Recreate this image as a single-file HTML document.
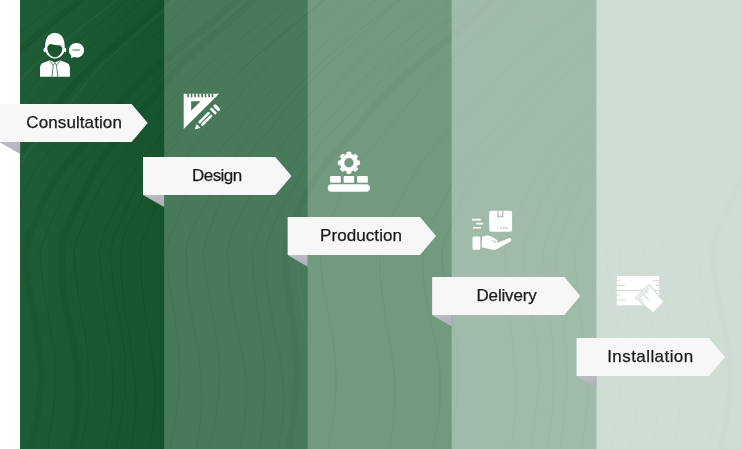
<!DOCTYPE html>
<html>
<head>
<meta charset="utf-8">
<style>
html,body{margin:0;padding:0;background:#fff;}
body{width:741px;height:449px;overflow:hidden;font-family:"Liberation Sans",sans-serif;}
svg{display:block;will-change:transform;}
text{font-family:"Liberation Sans",sans-serif;font-size:17px;fill:#1a1a1a;stroke:#1a1a1a;stroke-width:0.25px;text-anchor:middle;}
</style>
</head>
<body>
<svg width="741" height="449" viewBox="0 0 741 449">
<defs>
<linearGradient id="g1" x1="0" x2="1" y1="0" y2="0">
<stop offset="0" stop-color="#1d5c34"/><stop offset="1" stop-color="#15542c"/>
</linearGradient>
<linearGradient id="fold" x1="0" x2="1" y1="0" y2="1">
<stop offset="0" stop-color="#c0bfc7"/><stop offset="1" stop-color="#b0aeb8"/>
</linearGradient>
<g id="grain" fill="none" stroke-linejoin="round">
<path d="M-229 449 -227 438 -225 427 -224 416 -223 405 -222 394 -222 383 -223 372 -224 361 -225 350 -227 339 -229 328 -231 317 -233 306 -235 295 -236 284 -237 273 -238 262 -239 251 -236 240 -232 229 -227 218 -221 207 -216 196 -210 185 -204 174 -197 163 -188 152 -178 141 -168 130 -158 119 -148 108 -138 97 -128 86 -117 75 -106 64 -93 53 -79 42 -65 31 -52 20 -38 9 -25 -2 M-207 449 -205 438 -204 427 -204 416 -203 405 -203 394 -203 383 -204 372 -205 361 -206 350 -207 339 -209 328 -210 317 -211 306 -212 295 -213 284 -213 273 -213 262 -214 251 -212 240 -208 229 -203 218 -197 207 -191 196 -185 185 -180 174 -173 163 -166 152 -157 141 -147 130 -137 119 -126 108 -116 97 -106 86 -96 75 -86 64 -74 53 -61 42 -48 31 -34 20 -21 9 -8 -2 M-108 449 -106 438 -105 427 -103 416 -103 405 -103 394 -103 383 -104 372 -106 361 -108 350 -110 339 -112 328 -114 317 -116 306 -118 295 -119 284 -120 273 -119 262 -120 251 -118 240 -114 229 -109 218 -104 207 -98 196 -92 185 -86 174 -80 163 -73 152 -64 141 -55 130 -44 119 -34 108 -24 97 -15 86 -5 75 5 64 17 53 29 42 42 31 56 20 69 9 82 -2 M-19 449 -17 438 -15 427 -13 416 -12 405 -11 394 -11 383 -11 372 -12 361 -13 350 -15 339 -17 328 -19 317 -21 306 -23 295 -25 284 -26 273 -26 262 -28 251 -25 240 -21 229 -16 218 -11 207 -7 196 -2 185 4 174 11 163 19 152 28 141 37 130 47 119 56 108 64 97 73 86 83 75 94 64 106 53 119 42 131 31 143 20 155 9 167 -2 M31 449 33 438 35 427 37 416 39 405 40 394 41 383 41 372 40 361 39 350 38 339 36 328 34 317 32 306 30 295 28 284 26 273 25 262 25 251 28 240 32 229 37 218 41 207 46 196 52 185 59 174 67 163 77 152 87 141 97 130 106 119 116 108 125 97 136 86 147 75 160 64 174 53 187 42 201 31 214 20 226 9 240 -2 M72 449 74 438 76 427 77 416 78 405 79 394 78 383 78 372 76 361 75 350 73 339 70 328 68 317 66 306 64 295 63 284 62 273 62 262 61 251 63 240 67 229 72 218 77 207 83 196 88 185 93 174 100 163 107 152 116 141 125 130 135 119 144 108 154 97 163 86 172 75 182 64 194 53 206 42 219 31 231 20 244 9 256 -2 M289 449 290 438 292 427 293 416 295 405 296 394 296 383 297 372 296 361 296 350 295 339 293 328 292 317 290 306 289 295 287 284 286 273 285 262 285 251 288 240 292 229 296 218 300 207 305 196 311 185 318 174 326 163 336 152 345 141 355 130 364 119 373 108 383 97 394 86 405 75 418 64 431 53 444 42 457 31 470 20 482 9 495 -2 M720 449 722 438 725 427 727 416 728 405 730 394 730 383 730 372 730 361 728 350 727 339 725 328 722 317 720 306 718 295 716 284 714 273 713 262 712 251 715 240 719 229 724 218 728 207 733 196 738 185 744 174 752 163 761 152 770 141 780 130 789 119 798 108 807 97 816 86 827 75 839 64 851 53 864 42 877 31 889 20 901 9 914 -2" stroke="#000" stroke-opacity="0.045" stroke-width="7"/>
<path d="M-186 449 -185 438 -184 427 -183 416 -182 405 -182 394 -183 383 -183 372 -184 361 -185 350 -187 339 -188 328 -190 317 -191 306 -192 295 -193 284 -193 273 -193 262 -194 251 -192 240 -188 229 -183 218 -177 207 -171 196 -165 185 -160 174 -153 163 -145 152 -137 141 -127 130 -116 119 -106 108 -96 97 -86 86 -76 75 -66 64 -54 53 -41 42 -28 31 -14 20 -1 9 12 -2 M-169 449 -168 438 -166 427 -165 416 -165 405 -164 394 -164 383 -164 372 -165 361 -166 350 -167 339 -168 328 -170 317 -171 306 -172 295 -173 284 -174 273 -174 262 -175 251 -173 240 -168 229 -163 218 -158 207 -153 196 -148 185 -143 174 -136 163 -128 152 -119 141 -109 130 -99 119 -90 108 -81 97 -72 86 -62 75 -51 64 -39 53 -26 42 -13 31 -1 20 12 9 24 -2 M-143 449 -142 438 -141 427 -140 416 -139 405 -139 394 -139 383 -139 372 -140 361 -141 350 -143 339 -144 328 -146 317 -147 306 -148 295 -149 284 -150 273 -150 262 -151 251 -149 240 -144 229 -139 218 -133 207 -127 196 -122 185 -116 174 -109 163 -100 152 -91 141 -81 130 -70 119 -59 108 -49 97 -39 86 -29 75 -18 64 -5 53 8 42 22 31 36 20 50 9 63 -2 M-126 449 -125 438 -123 427 -122 416 -121 405 -120 394 -120 383 -120 372 -120 361 -120 350 -121 339 -122 328 -123 317 -125 306 -126 295 -127 284 -128 273 -129 262 -130 251 -126 240 -122 229 -118 218 -113 207 -108 196 -103 185 -96 174 -87 163 -78 152 -68 141 -58 130 -49 119 -39 108 -30 97 -19 86 -8 75 5 64 19 53 32 42 45 31 58 20 71 9 84 -2 M-65 449 -64 438 -63 427 -62 416 -61 405 -61 394 -61 383 -62 372 -63 361 -64 350 -66 339 -67 328 -69 317 -70 306 -72 295 -73 284 -73 273 -73 262 -74 251 -72 240 -68 229 -63 218 -57 207 -51 196 -46 185 -40 174 -34 163 -26 152 -17 141 -8 130 3 119 13 108 23 97 32 86 42 75 53 64 64 53 77 42 90 31 104 20 117 9 129 -2 M-57 449 -55 438 -53 427 -52 416 -50 405 -49 394 -49 383 -48 372 -49 361 -49 350 -50 339 -52 328 -53 317 -55 306 -56 295 -58 284 -59 273 -60 262 -61 251 -57 240 -53 229 -49 218 -45 207 -40 196 -35 185 -28 174 -20 163 -10 152 -1 141 8 130 17 119 26 108 36 97 46 86 57 75 70 64 83 53 96 42 108 31 121 20 133 9 146 -2 M-35 449 -33 438 -31 427 -30 416 -29 405 -28 394 -28 383 -28 372 -28 361 -29 350 -30 339 -32 328 -33 317 -35 306 -37 295 -38 284 -39 273 -40 262 -41 251 -38 240 -33 229 -28 218 -23 207 -18 196 -13 185 -6 174 2 163 11 152 20 141 31 130 40 119 50 108 60 97 70 86 81 75 93 64 106 53 120 42 133 31 147 20 159 9 172 -2 M8 449 9 438 10 427 11 416 12 405 12 394 12 383 12 372 12 361 11 350 10 339 8 328 7 317 6 306 4 295 4 284 3 273 2 262 1 251 4 240 8 229 13 218 18 207 23 196 28 185 33 174 40 163 48 152 57 141 66 130 76 119 85 108 94 97 103 86 112 75 123 64 135 53 147 42 160 31 172 20 184 9 196 -2 M48 449 49 438 51 427 53 416 54 405 55 394 55 383 55 372 55 361 54 350 52 339 50 328 49 317 47 306 45 295 43 284 42 273 41 262 40 251 44 240 48 229 53 218 58 207 63 196 68 185 75 174 82 163 92 152 101 141 111 130 121 119 131 108 140 97 150 86 161 75 174 64 187 53 200 42 214 31 227 20 240 9 253 -2 M81 449 83 438 85 427 86 416 88 405 89 394 89 383 89 372 88 361 87 350 86 339 84 328 82 317 80 306 78 295 77 284 75 273 75 262 74 251 77 240 81 229 86 218 91 207 96 196 102 185 108 174 116 163 126 152 135 141 146 130 156 119 165 108 175 97 185 86 197 75 209 64 222 53 236 42 250 31 263 20 276 9 289 -2 M107 449 108 438 110 427 111 416 112 405 113 394 113 383 112 372 112 361 111 350 109 339 108 328 106 317 104 306 103 295 102 284 101 273 100 262 99 251 102 240 106 229 111 218 116 207 121 196 126 185 132 174 139 163 147 152 157 141 166 130 176 119 185 108 195 97 204 86 214 75 225 64 237 53 250 42 263 31 276 20 288 9 301 -2 M116 449 118 438 120 427 122 416 123 405 125 394 125 383 125 372 125 361 124 350 123 339 121 328 119 317 117 306 115 295 113 284 112 273 111 262 110 251 113 240 117 229 122 218 127 207 132 196 137 185 145 174 153 163 162 152 172 141 182 130 192 119 202 108 211 97 222 86 234 75 247 64 260 53 274 42 287 31 300 20 313 9 327 -2 M131 449 133 438 134 427 135 416 136 405 136 394 135 383 134 372 133 361 131 350 130 339 128 328 126 317 124 306 123 295 122 284 121 273 121 262 121 251 123 240 126 229 132 218 138 207 144 196 149 185 155 174 162 163 169 152 178 141 187 130 198 119 208 108 218 97 228 86 238 75 248 64 260 53 272 42 285 31 299 20 313 9 326 -2 M150 449 151 438 153 427 154 416 155 405 155 394 155 383 154 372 153 361 151 350 150 339 148 328 146 317 144 306 143 295 142 284 141 273 141 262 140 251 142 240 147 229 152 218 157 207 163 196 169 185 174 174 181 163 189 152 198 141 207 130 218 119 228 108 238 97 247 86 257 75 268 64 280 53 292 42 306 31 319 20 332 9 345 -2 M170 449 172 438 174 427 176 416 177 405 179 394 179 383 180 372 179 361 179 350 178 339 176 328 175 317 173 306 171 295 169 284 168 273 167 262 166 251 169 240 173 229 178 218 182 207 187 196 193 185 200 174 208 163 218 152 227 141 237 130 246 119 255 108 265 97 276 86 288 75 300 64 314 53 327 42 340 31 352 20 365 9 378 -2 M197 449 198 438 200 427 201 416 202 405 202 394 201 383 201 372 199 361 198 350 196 339 194 328 192 317 190 306 188 295 187 284 187 273 187 262 186 251 188 240 192 229 198 218 204 207 210 196 216 185 222 174 229 163 237 152 246 141 256 130 267 119 278 108 288 97 298 86 309 75 320 64 332 53 345 42 359 31 373 20 387 9 401 -2 M209 449 211 438 214 427 216 416 217 405 219 394 219 383 220 372 219 361 218 350 217 339 215 328 213 317 211 306 209 295 207 284 205 273 204 262 203 251 206 240 210 229 214 218 218 207 223 196 228 185 235 174 242 163 251 152 260 141 270 130 278 119 287 108 296 97 306 86 317 75 328 64 341 53 354 42 366 31 378 20 390 9 402 -2 M239 449 242 438 244 427 245 416 246 405 246 394 246 383 245 372 243 361 242 350 239 339 237 328 235 317 233 306 231 295 229 284 229 273 228 262 227 251 230 240 234 229 239 218 245 207 250 196 256 185 262 174 268 163 276 152 285 141 295 130 305 119 316 108 325 97 335 86 345 75 356 64 367 53 380 42 394 31 407 20 421 9 433 -2 M259 449 261 438 262 427 263 416 264 405 265 394 265 383 265 372 264 361 263 350 262 339 260 328 259 317 257 306 256 295 254 284 253 273 253 262 252 251 255 240 259 229 264 218 269 207 274 196 279 185 285 174 292 163 301 152 310 141 320 130 329 119 339 108 348 97 357 86 368 75 379 64 392 53 405 42 418 31 430 20 443 9 455 -2 M278 449 280 438 282 427 283 416 284 405 284 394 283 383 282 372 281 361 279 350 276 339 274 328 272 317 270 306 268 295 267 284 266 273 266 262 266 251 268 240 272 229 277 218 283 207 289 196 295 185 301 174 308 163 315 152 324 141 334 130 345 119 355 108 366 97 376 86 386 75 397 64 408 53 421 42 435 31 449 20 463 9 476 -2 M328 449 330 438 332 427 333 416 335 405 336 394 336 383 336 372 335 361 334 350 333 339 331 328 329 317 327 306 325 295 323 284 322 273 321 262 320 251 323 240 327 229 332 218 336 207 341 196 346 185 352 174 359 163 368 152 377 141 387 130 396 119 405 108 414 97 423 86 434 75 445 64 458 53 470 42 483 31 495 20 507 9 519 -2 M389 449 391 438 393 427 394 416 395 405 395 394 395 383 394 372 393 361 391 350 389 339 387 328 385 317 384 306 382 295 381 284 380 273 380 262 379 251 381 240 385 229 391 218 397 207 403 196 408 185 415 174 421 163 430 152 439 141 449 130 460 119 470 108 481 97 491 86 501 75 512 64 525 53 538 42 552 31 566 20 580 9 593 -2 M433 449 435 438 437 427 439 416 440 405 440 394 440 383 440 372 438 361 437 350 435 339 432 328 430 317 428 306 426 295 424 284 423 273 423 262 422 251 424 240 429 229 434 218 440 207 446 196 451 185 458 174 465 163 473 152 483 141 494 130 504 119 515 108 525 97 535 86 546 75 558 64 571 53 584 42 599 31 613 20 626 9 640 -2 M448 449 450 438 453 427 455 416 456 405 457 394 458 383 458 372 458 361 457 350 456 339 454 328 452 317 449 306 447 295 445 284 444 273 442 262 442 251 445 240 449 229 454 218 458 207 463 196 469 185 476 174 484 163 494 152 504 141 514 130 523 119 533 108 542 97 553 86 565 75 577 64 591 53 605 42 618 31 631 20 644 9 657 -2 M511 449 513 438 514 427 515 416 515 405 516 394 516 383 515 372 514 361 513 350 512 339 511 328 510 317 508 306 507 295 506 284 506 273 506 262 504 251 507 240 511 229 516 218 521 207 526 196 532 185 537 174 544 163 551 152 560 141 570 130 580 119 589 108 599 97 608 86 617 75 628 64 639 53 652 42 665 31 678 20 690 9 702 -2 M530 449 532 438 534 427 535 416 537 405 538 394 539 383 539 372 538 361 537 350 536 339 534 328 532 317 530 306 528 295 526 284 525 273 524 262 523 251 526 240 530 229 535 218 539 207 544 196 550 185 556 174 564 163 573 152 583 141 593 130 602 119 611 108 620 97 630 86 642 75 654 64 667 53 680 42 693 31 706 20 718 9 731 -2 M548 449 549 438 550 427 552 416 553 405 553 394 554 383 554 372 553 361 553 350 552 339 551 328 549 317 548 306 547 295 545 284 544 273 544 262 543 251 546 240 550 229 554 218 559 207 563 196 568 185 574 174 582 163 590 152 599 141 609 130 617 119 626 108 635 97 644 86 654 75 666 64 678 53 691 42 703 31 715 20 726 9 738 -2 M560 449 562 438 563 427 564 416 565 405 566 394 567 383 567 372 566 361 566 350 565 339 564 328 562 317 561 306 560 295 558 284 557 273 557 262 556 251 559 240 563 229 568 218 572 207 577 196 582 185 589 174 596 163 605 152 615 141 624 130 633 119 642 108 651 97 661 86 672 75 684 64 697 53 710 42 723 31 735 20 747 9 759 -2 M582 449 583 438 585 427 586 416 587 405 587 394 587 383 587 372 586 361 585 350 584 339 582 328 581 317 579 306 578 295 577 284 576 273 575 262 574 251 577 240 582 229 587 218 592 207 598 196 603 185 610 174 617 163 626 152 636 141 646 130 657 119 667 108 677 97 687 86 698 75 709 64 722 53 736 42 750 31 764 20 777 9 791 -2 M611 449 613 438 615 427 617 416 619 405 620 394 621 383 621 372 621 361 620 350 619 339 618 328 616 317 614 306 612 295 610 284 608 273 607 262 607 251 610 240 613 229 617 218 621 207 625 196 631 185 637 174 645 163 654 152 663 141 671 130 680 119 688 108 697 97 707 86 717 75 729 64 741 53 753 42 765 31 777 20 788 9 800 -2 M630 449 632 438 634 427 636 416 637 405 638 394 638 383 637 372 636 361 635 350 633 339 631 328 628 317 626 306 624 295 622 284 621 273 620 262 619 251 622 240 627 229 632 218 637 207 643 196 648 185 654 174 662 163 670 152 680 141 690 130 701 119 711 108 721 97 731 86 741 75 753 64 766 53 780 42 794 31 807 20 820 9 833 -2 M653 449 654 438 656 427 657 416 658 405 659 394 659 383 658 372 657 361 656 350 655 339 653 328 651 317 650 306 648 295 647 284 646 273 646 262 644 251 647 240 651 229 656 218 661 207 666 196 671 185 677 174 684 163 692 152 700 141 710 130 720 119 729 108 738 97 747 86 757 75 768 64 779 53 792 42 805 31 818 20 830 9 842 -2 M674 449 676 438 678 427 679 416 680 405 680 394 680 383 678 372 677 361 675 350 673 339 670 328 668 317 666 306 664 295 663 284 662 273 662 262 662 251 664 240 668 229 673 218 679 207 685 196 691 185 697 174 704 163 711 152 720 141 730 130 741 119 751 108 761 97 771 86 782 75 792 64 804 53 817 42 831 31 845 20 858 9 872 -2 M709 449 711 438 713 427 714 416 716 405 716 394 716 383 716 372 715 361 713 350 711 339 709 328 707 317 704 306 702 295 701 284 700 273 699 262 698 251 701 240 705 229 710 218 715 207 720 196 726 185 732 174 738 163 746 152 756 141 766 130 775 119 785 108 794 97 804 86 814 75 825 64 837 53 850 42 863 31 876 20 889 9 901 -2 M746 449 748 438 749 427 751 416 751 405 752 394 752 383 752 372 751 361 750 350 748 339 747 328 745 317 744 306 742 295 741 284 740 273 740 262 739 251 742 240 746 229 752 218 757 207 763 196 768 185 775 174 782 163 791 152 801 141 811 130 822 119 832 108 842 97 852 86 863 75 875 64 888 53 902 42 916 31 930 20 944 9 957 -2 M761 449 764 438 766 427 768 416 770 405 771 394 772 383 771 372 771 361 769 350 768 339 766 328 763 317 761 306 759 295 757 284 755 273 754 262 753 251 756 240 760 229 765 218 770 207 774 196 780 185 786 174 794 163 802 152 812 141 822 130 831 119 840 108 849 97 859 86 870 75 882 64 894 53 908 42 921 31 933 20 945 9 958 -2" stroke="#000" stroke-opacity="0.08" stroke-width="1"/>
<path d="M-92 449 -90 438 -89 427 -88 416 -87 405 -87 394 -87 383 -87 372 -88 361 -89 350 -90 339 -92 328 -93 317 -95 306 -96 295 -97 284 -98 273 -98 262 -99 251 -97 240 -92 229 -87 218 -81 207 -75 196 -70 185 -63 174 -56 163 -48 152 -38 141 -27 130 -17 119 -6 108 4 97 14 86 25 75 36 64 49 53 63 42 77 31 91 20 105 9 118 -2 M-7 449 -5 438 -3 427 -1 416 -0 405 -0 394 -0 383 -1 372 -2 361 -4 350 -6 339 -8 328 -10 317 -12 306 -14 295 -16 284 -16 273 -17 262 -18 251 -16 240 -12 229 -7 218 -1 207 4 196 9 185 14 174 21 163 28 152 37 141 46 130 56 119 66 108 75 97 84 86 93 75 103 64 115 53 127 42 140 31 153 20 165 9 177 -2 M308 449 310 438 312 427 313 416 314 405 314 394 314 383 313 372 312 361 310 350 308 339 306 328 304 317 302 306 301 295 299 284 298 273 298 262 297 251 299 240 304 229 309 218 315 207 321 196 326 185 332 174 339 163 347 152 357 141 367 130 377 119 388 108 398 97 408 86 418 75 429 64 441 53 455 42 468 31 482 20 496 9 509 -2 M352 449 353 438 354 427 356 416 356 405 357 394 357 383 356 372 355 361 354 350 353 339 351 328 350 317 348 306 347 295 346 284 345 273 345 262 343 251 346 240 350 229 356 218 362 207 367 196 373 185 379 174 387 163 395 152 405 141 415 130 426 119 437 108 447 97 457 86 468 75 479 64 492 53 506 42 520 31 534 20 548 9 561 -2 M368 449 369 438 371 427 373 416 375 405 376 394 377 383 377 372 377 361 376 350 375 339 374 328 372 317 370 306 368 295 366 284 365 273 364 262 363 251 366 240 370 229 374 218 378 207 382 196 388 185 395 174 403 163 411 152 420 141 429 130 438 119 446 108 455 97 465 86 476 75 488 64 501 53 513 42 525 31 536 20 548 9 560 -2 M409 449 411 438 413 427 415 416 416 405 416 394 416 383 415 372 414 361 412 350 410 339 408 328 406 317 404 306 402 295 401 284 400 273 399 262 398 251 401 240 405 229 410 218 416 207 421 196 426 185 432 174 439 163 446 152 455 141 465 130 475 119 485 108 495 97 504 86 514 75 525 64 537 53 549 42 563 31 576 20 589 9 601 -2 M472 449 474 438 476 427 478 416 479 405 479 394 479 383 478 372 477 361 476 350 474 339 472 328 470 317 468 306 466 295 464 284 464 273 463 262 462 251 464 240 469 229 474 218 479 207 484 196 489 185 495 174 501 163 509 152 518 141 528 130 538 119 547 108 556 97 566 86 575 75 586 64 597 53 610 42 623 31 636 20 648 9 660 -2 M491 449 493 438 494 427 496 416 497 405 497 394 497 383 497 372 496 361 494 350 493 339 491 328 489 317 488 306 486 295 485 284 484 273 484 262 483 251 485 240 490 229 495 218 500 207 506 196 511 185 517 174 524 163 532 152 542 141 552 130 562 119 572 108 582 97 592 86 602 75 613 64 626 53 639 42 653 31 666 20 679 9 692 -2 M597 449 598 438 600 427 602 416 603 405 604 394 604 383 604 372 604 361 603 350 602 339 600 328 598 317 597 306 595 295 594 284 592 273 592 262 591 251 594 240 598 229 602 218 606 207 611 196 616 185 622 174 629 163 638 152 647 141 656 130 665 119 674 108 682 97 692 86 702 75 713 64 725 53 738 42 750 31 762 20 774 9 786 -2 M694 449 695 438 696 427 698 416 699 405 700 394 701 383 701 372 701 361 700 350 699 339 698 328 697 317 696 306 694 295 693 284 692 273 691 262 691 251 694 240 697 229 701 218 706 207 710 196 716 185 723 174 731 163 741 152 750 141 759 130 768 119 777 108 786 97 796 86 808 75 820 64 833 53 846 42 859 31 871 20 883 9 896 -2" stroke="#fff" stroke-opacity="0.045" stroke-width="1.4"/>
</g>
<clipPath id="c1"><rect x="20" y="0" width="144.2" height="449"/></clipPath>
<clipPath id="c2"><rect x="164.2" y="0" width="143.500" height="449"/></clipPath>
<clipPath id="c3"><rect x="307.7" y="0" width="144" height="449"/></clipPath>
<clipPath id="c4"><rect x="451.7" y="0" width="144.8" height="449"/></clipPath>
<clipPath id="c5"><rect x="596.5" y="0" width="145" height="449"/></clipPath>
</defs>
<!-- columns -->
<rect x="20" y="0" width="145" height="449" fill="url(#g1)"/>
<rect x="164.2" y="0" width="145" height="449" fill="#477a59"/>
<rect x="307.7" y="0" width="145" height="449" fill="#719a7f"/>
<rect x="451.7" y="0" width="146" height="449" fill="#a1bbaa"/>
<rect x="596.5" y="0" width="145" height="449" fill="#d0ddd5"/>

<g clip-path="url(#c1)"><use href="#grain"/></g>
<g clip-path="url(#c2)" opacity="0.75"><use href="#grain"/></g>
<g clip-path="url(#c3)" opacity="0.5"><use href="#grain"/></g>
<g clip-path="url(#c4)" opacity="0.3"><use href="#grain"/></g>
<g clip-path="url(#c5)" opacity="0.18"><use href="#grain"/></g>
<!-- arrows -->
<g id="arrows">
<path d="M-1 142H20.2V154Z" fill="url(#fold)"/>
<path d="M-1 104.1H131.6L147.7 123.050L131.6 142H-1Z" fill="#f7f7f7"/>
<path d="M143 195H164.2V207Z" fill="url(#fold)"/>
<path d="M143 157H275.3L291.5 176L275.3 195H143Z" fill="#f7f7f7"/>
<path d="M287.6 255H307.7V266.8Z" fill="url(#fold)"/>
<path d="M287.6 217H420L436 236L420 255H287.6Z" fill="#f7f7f7"/>
<path d="M432.1 315H451.7V326.5Z" fill="url(#fold)"/>
<path d="M432.1 277H564.3L580.3 296L564.3 315H432.1Z" fill="#f7f7f7"/>
<path d="M576.5 376H596.5V387.6Z" fill="url(#fold)"/>
<path d="M576.5 338H708.7L725 357L708.7 376H576.5Z" fill="#f7f7f7"/>
</g>

<!-- icon 1: consultant -->
<g id="ic1" fill="#fff">
<ellipse cx="44.7" cy="50" rx="1.2" ry="2.3"/>
<ellipse cx="65.1" cy="50" rx="1.2" ry="2.3"/>
<path d="M45.2 50C44.3 40 47.5 33 54.9 33C62.3 33 65.5 40 64.6 50C64 54.3 60 58.4 54.9 58.4C49.8 58.4 45.8 54.3 45.2 50Z"/>
<path d="M47.3 48.6C47.2 46.5 48.6 44.4 50.6 44C53.5 45 57 45.2 59.4 45.3C61.4 45.8 62.4 47.4 62.3 49.2C62 53.2 58.6 57.3 54.9 57.3C51.1 57.3 47.6 53.2 47.3 48.6Z" fill="#18572e"/>
<path d="M40 76.8V68C40 64.6 42 63 44.8 62.3L49.8 60.2L54.9 62.6L60 60.2L65.1 62.3C67.9 63 69.9 64.6 69.9 68V76.8Z"/>
<path d="M49.4 60.6L53.3 65.2L52 76.8M60.4 60.6L56.5 65.2L57.8 76.8M53.3 65.2L54.9 62.8L56.5 65.2" fill="none" stroke="#2c6a42" stroke-width="0.8" stroke-linejoin="round"/>
<path d="M76.5 42.9C80.7 42.9 84.1 46.1 84.1 50.2C84.1 54.3 80.7 57.5 76.5 57.5C75.5 57.5 74.6 57.3 73.7 57L71.3 58.2L71.2 55.4C69.8 54.1 68.9 52.3 68.9 50.2C68.9 46.1 72.3 42.9 76.5 42.9Z"/>
<rect x="72.4" y="49.1" width="7.8" height="1.9" rx="0.9" fill="#9db8a6"/>
</g>

<!-- icon 2: ruler and pencil -->
<g id="ic2" fill="#fff">
<path d="M183.7 93.8H219L183.7 129.1Z"/>
<path d="M191.1 101.3H200.6L191.1 110.7Z" fill="#467a57"/>
<path d="M187.2 93.5h1.7v3.8h-1.7zM190.7 93.5h1.7v3.8h-1.7zM194.2 93.5h1.7v3.8h-1.7zM197.7 93.5h1.7v3.8h-1.7zM201.2 93.5h1.7v3.8h-1.7zM204.7 93.5h1.7v3.8h-1.7zM208.2 93.5h1.7v3.8h-1.7zM211.7 93.5h1.7v3.8h-1.7z" fill="#467a57"/>
<g transform="translate(194.8 129.6) rotate(-45)">
<path d="M0 0L5.2 -2.7V2.7Z"/>
<path d="M8.7 -1.85H21.3M8.7 1.85H21.3" stroke="#fff" stroke-width="2.5" stroke-linecap="round" fill="none"/>
<path d="M26.2 -2.7V2.7" stroke="#fff" stroke-width="2.7" stroke-linecap="round" fill="none"/>
<path d="M31 -2.4V2.4" stroke="#fff" stroke-width="3.3" stroke-linecap="round" fill="none"/>
</g>
</g>

<!-- icon 3: production -->
<g id="ic3" fill="#fff">
<path d="M346.85 154.31 L347.18 152.10 L350.72 152.10 L351.05 154.31 L353.44 155.30 L355.23 153.96 L357.74 156.47 L356.40 158.26 L357.39 160.65 L359.60 160.98 L359.60 164.52 L357.39 164.85 L356.40 167.24 L357.74 169.03 L355.23 171.54 L353.44 170.20 L351.05 171.19 L350.72 173.40 L347.18 173.40 L346.85 171.19 L344.46 170.20 L342.67 171.54 L340.16 169.03 L341.50 167.24 L340.51 164.85 L338.30 164.52 L338.30 160.98 L340.51 160.65 L341.50 158.26 L340.16 156.47 L342.67 153.96 L344.46 155.30Z" stroke="#fff" stroke-width="0.8" stroke-linejoin="round"/>
<circle cx="348.95" cy="162.75" r="4.7" fill="#729b80"/>
<rect x="330.1" y="176" width="10.7" height="6.8" rx="0.8"/>
<rect x="343.6" y="176" width="10.6" height="6.8" rx="0.8"/>
<rect x="357.1" y="176" width="10.7" height="6.8" rx="0.8"/>
<rect x="327.7" y="184.3" width="42.2" height="7.5" rx="3.75"/>
</g>

<!-- icon 4: delivery -->
<g id="ic4" fill="#fff">
<rect x="489.2" y="210.8" width="22.9" height="20.9" rx="2.2"/>
<path d="M498 210.6V217.1L500.4 215.9L502.8 217.1V210.6" fill="none" stroke="#a2bcab" stroke-width="1.1" stroke-linejoin="round"/>
<path d="M500.1 226.9h1.9v2h-1.9zM503 226.9h1.9v2h-1.9zM505.9 226.9h1.9v2h-1.9z" fill="#c4d6ca"/>
<rect x="472" y="218.8" width="9" height="1.6" rx="0.5"/>
<rect x="476.3" y="222.8" width="6.7" height="1.6" rx="0.5"/>
<rect x="472.8" y="226.9" width="8.2" height="1.7" rx="0.5"/>
<rect x="472.5" y="236.5" width="7.8" height="13.3" rx="1.5"/>
<path d="M481.9 237.2C483.5 236 485.5 235.3 487.5 235.5C490.5 235.8 493.5 237.8 496.5 239.7C497.8 240.5 497.8 242.2 496.3 242.6L498.5 242.6L508.5 238.3C510.5 237.5 512 239.3 510.8 241C510.6 241.3 510.3 241.6 510 241.8L497 249C495.5 249.8 494 250 492.5 249.8L481.9 247.2Z"/>
<path d="M491.8 240.3L496.2 242.4" fill="none" stroke="#a2bcab" stroke-width="0.9" stroke-linecap="round"/>
</g>

<!-- icon 5: installation -->
<g id="ic5" fill="#fff">
<rect x="616.8" y="276.1" width="42.3" height="29.2"/>
<path d="M616.8 280.8H620M652.1 280.8H659.1M616.8 285.4H625.1M656 285.4H659.1M616.8 290.5H659.1M616.8 295.3H620M616.8 300H625.1" stroke="#d0ddd5" stroke-width="1.1" fill="none"/>
<path d="M649.1 285.6L663.1 301.65L653 312.1L636.65 298Z" stroke="#d0ddd5" stroke-width="2.4" stroke-linejoin="miter"/>
<path d="M649.1 285.6L663.1 301.65L653 312.1L636.65 298Z"/>
<path d="M649.3 287.7L638.9 298L643.2 301.8" stroke="#d0ddd5" stroke-width="1.1" fill="none"/>
<path d="M646 290.8L648.4 293.6M643.2 294.4L648.8 300" stroke="#d0ddd5" stroke-width="1.1" fill="none"/>
</g>
<text x="74.1" y="128.4" textLength="95.5">Consultation</text>
<text x="217.1" y="181.4" textLength="50">Design</text>
<text x="361" y="241.4" textLength="82">Production</text>
<text x="506.6" y="301.4" textLength="60.2">Delivery</text>
<text x="650.2" y="362.4" textLength="86">Installation</text>
</svg>
</body>
</html>
